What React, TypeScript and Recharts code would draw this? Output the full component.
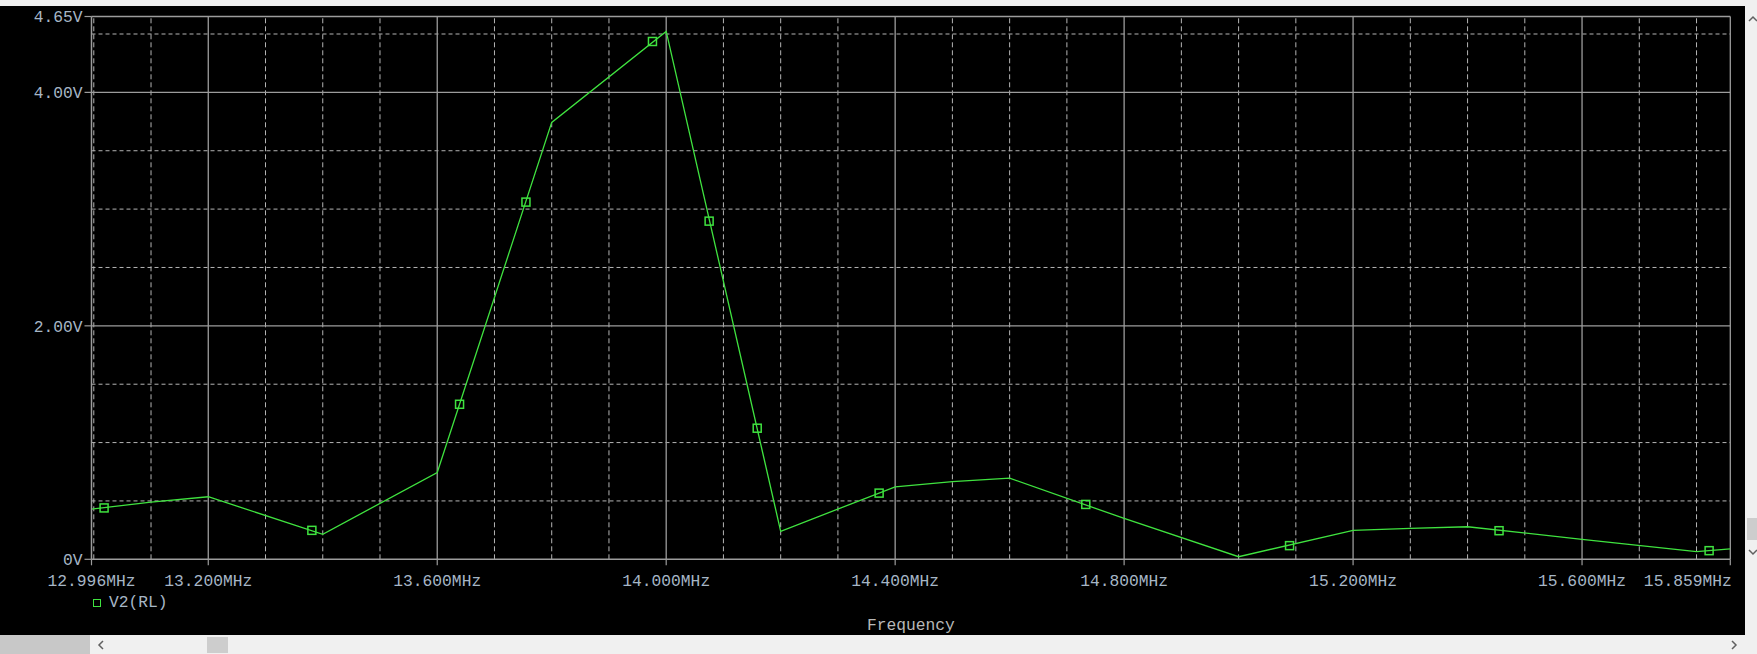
import React from 'react';
import { ComposedChart, Line, Scatter, XAxis, YAxis, ReferenceLine } from 'recharts';

// Trace vertices (frequency in MHz, voltage in V)
const traceFreq = [12.996, 13.1, 13.2, 13.4, 13.6, 13.8, 14.0, 14.2, 14.4, 14.5, 14.6, 14.8, 15.0, 15.2, 15.3, 15.4, 15.6, 15.8, 15.859];
const traceVolts = [0.43, 0.49, 0.536, 0.214, 0.744, 3.743, 4.522, 0.24, 0.621, 0.665, 0.695, 0.35, 0.022, 0.248, 0.265, 0.279, 0.171, 0.065, 0.09];

// Marker symbols placed along the trace
const markerFreq = [13.018, 13.381, 13.639, 13.755, 13.976, 14.075, 14.159, 14.372, 14.733, 15.089, 15.455, 15.822];
const markerVolts = [0.44, 0.248, 1.328, 3.06, 4.436, 2.897, 1.123, 0.567, 0.47, 0.117, 0.245, 0.074];

// Axis ticks and grid
const xTicks = [12.996, 13.2, 13.6, 14.0, 14.4, 14.8, 15.2, 15.6, 15.859];
const yTicks = [0, 2, 4, 4.65];
const xMajorGrid = [13.2, 13.6, 14.0, 14.4, 14.8, 15.2, 15.6, 15.859];
const xMinorGrid = [13.0, 13.1, 13.3, 13.4, 13.5, 13.7, 13.8, 13.9, 14.1, 14.2, 14.3, 14.5, 14.6, 14.7, 14.9, 15.0, 15.1, 15.3, 15.4, 15.5, 15.7, 15.8];
const yMajorGrid = [2, 4, 4.65];
const yMinorGrid = [0.5, 1, 1.5, 2.5, 3, 3.5, 4.5];

const seriesName = 'V2(RL)';
const xTitle = 'Frequency';

const traceData = traceFreq.map((f, i) => ({ f, v: traceVolts[i] }));
const markerData = markerFreq.map((f, i) => ({ f, v: markerVolts[i] }));

const FONT = "'Liberation Mono', 'DejaVu Sans Mono', monospace";
const FS = 16.3;
const LABEL = '#a6b6c6';
const GREEN = '#3fe23f';
const SOLID = '#9c9c9c';
const DASH = '#b4b4b4';

const fmtV = (v: number) => (v === 0 ? '0V' : v.toFixed(2) + 'V');
const fmtF = (f: number) => f.toFixed(3) + 'MHz';

const YTick = (props: any) => {
  const { x, y, payload } = props;
  return (
    <text x={x} y={y} dy="0.36em" textAnchor="end" fill={LABEL} fontSize={FS} fontFamily={FONT}>
      {fmtV(payload.value)}
    </text>
  );
};

const XTick = (props: any) => {
  const { x, y, payload, index } = props;
  const last = index === xTicks.length - 1;
  return (
    <text x={last ? x + 1.5 : x} y={y + 19} textAnchor={last ? 'end' : 'middle'} fill={LABEL} fontSize={FS} fontFamily={FONT}>
      {fmtF(payload.value)}
    </text>
  );
};

const SquareMarker = (props: any) => {
  const { cx, cy } = props;
  if (cx == null || cy == null) return null;
  return <rect x={cx - 4} y={cy - 4} width={8} height={8} fill="none" stroke={GREEN} strokeWidth={1.5} />;
};

const XTitle = (props: any) => {
  const vb = props.viewBox || {};
  return (
    <text x={vb.x + vb.width / 2} y={vb.y + vb.height + 30.5} textAnchor="middle" fill="#b8b8b8" fontSize={FS} fontFamily={FONT}>
      {xTitle}
    </text>
  );
};

export default function App() {
  return (
    <div style={{ position: 'fixed', left: 0, top: 0, width: 1757, height: 654, background: '#f0f0f0', overflow: 'hidden' }}>
      <div style={{ position: 'absolute', left: 0, top: 6, width: 1745, height: 629, background: '#000' }}>
        <ComposedChart
          width={1745}
          height={629}
          margin={{ top: 10.5, right: 14.7, left: 0, bottom: 35.7 }}
          style={{ background: '#000' }}
        >
          <XAxis
            dataKey="f"
            type="number"
            domain={[12.996, 15.859]}
            allowDataOverflow
            ticks={xTicks}
            interval={0}
            height={40}
            tickSize={6}
            tickMargin={2}
            tick={<XTick />}
            stroke={SOLID}
            axisLine={{ stroke: SOLID, strokeWidth: 1.5 }}
            tickLine={{ stroke: SOLID, strokeWidth: 1.2 }}
            label={<XTitle />}
          />
          <YAxis
            dataKey="v"
            type="number"
            domain={[0, 4.65]}
            allowDataOverflow
            ticks={yTicks}
            interval={0}
            width={91.5}
            tickSize={7}
            tickMargin={2}
            tick={<YTick />}
            stroke={SOLID}
            axisLine={{ stroke: SOLID, strokeWidth: 1.5 }}
            tickLine={{ stroke: SOLID, strokeWidth: 1.2 }}
          />
          {yMinorGrid.map((v) => (
            <ReferenceLine key={'ym' + v} y={v} stroke={DASH} strokeWidth={1} strokeDasharray="4 3" />
          ))}
          {xMinorGrid.map((f) => (
            <ReferenceLine key={'xm' + f} x={f} stroke={DASH} strokeWidth={1} strokeDasharray="5 3" />
          ))}
          {yMajorGrid.map((v) => (
            <ReferenceLine key={'yM' + v} y={v} stroke={SOLID} strokeWidth={1.3} />
          ))}
          {xMajorGrid.map((f) => (
            <ReferenceLine key={'xM' + f} x={f} stroke={SOLID} strokeWidth={1.3} />
          ))}
          <Line
            data={traceData}
            dataKey="v"
            type="linear"
            stroke={GREEN}
            strokeWidth={1.3}
            dot={false}
            activeDot={false}
            isAnimationActive={false}
            name={seriesName}
          />
          <Scatter
            data={markerData}
            dataKey="v"
            fill="none"
            shape={<SquareMarker />}
            isAnimationActive={false}
            name={seriesName + ' markers'}
          />
        </ComposedChart>
        {/* legend */}
        <div style={{ position: 'absolute', left: 93, top: 593, height: 8, display: 'flex', alignItems: 'center' }}>
          <div style={{ width: 6, height: 6, border: `1.5px solid ${GREEN}` }} />
          <span style={{ marginLeft: 8, color: LABEL, fontFamily: FONT, fontSize: FS, lineHeight: '16px' }}>{seriesName}</span>
        </div>
      </div>
      {/* right vertical scrollbar */}
      <div style={{ position: 'absolute', left: 1745, top: 6, width: 12, height: 629, background: '#f0f0f0' }}>
        <svg width={12} height={629} style={{ position: 'absolute', left: 0, top: 0 }}>
          <polyline points="4,15 8,11 12,15" fill="none" stroke="#606060" strokeWidth={1.5} />
          <rect x={2} y={512} width={10} height={22} fill="#cdcdcd" />
          <polyline points="4,544 8,548 12,544" fill="none" stroke="#606060" strokeWidth={1.5} />
        </svg>
      </div>
      {/* bottom horizontal scrollbar */}
      <div style={{ position: 'absolute', left: 0, top: 635, width: 1757, height: 19, background: '#f0f0f0' }}>
        <div style={{ position: 'absolute', left: 0, top: 0, width: 90, height: 19, background: '#c8c8c8' }} />
        <svg width={1757} height={19} style={{ position: 'absolute', left: 0, top: 0 }}>
          <polyline points="103,6 99,10 103,14" fill="none" stroke="#606060" strokeWidth={1.5} />
          <rect x={207} y={2} width={21} height={16} fill="#cdcdcd" />
          <polyline points="1732,6 1736,10 1732,14" fill="none" stroke="#606060" strokeWidth={1.5} />
        </svg>
      </div>
    </div>
  );
}
